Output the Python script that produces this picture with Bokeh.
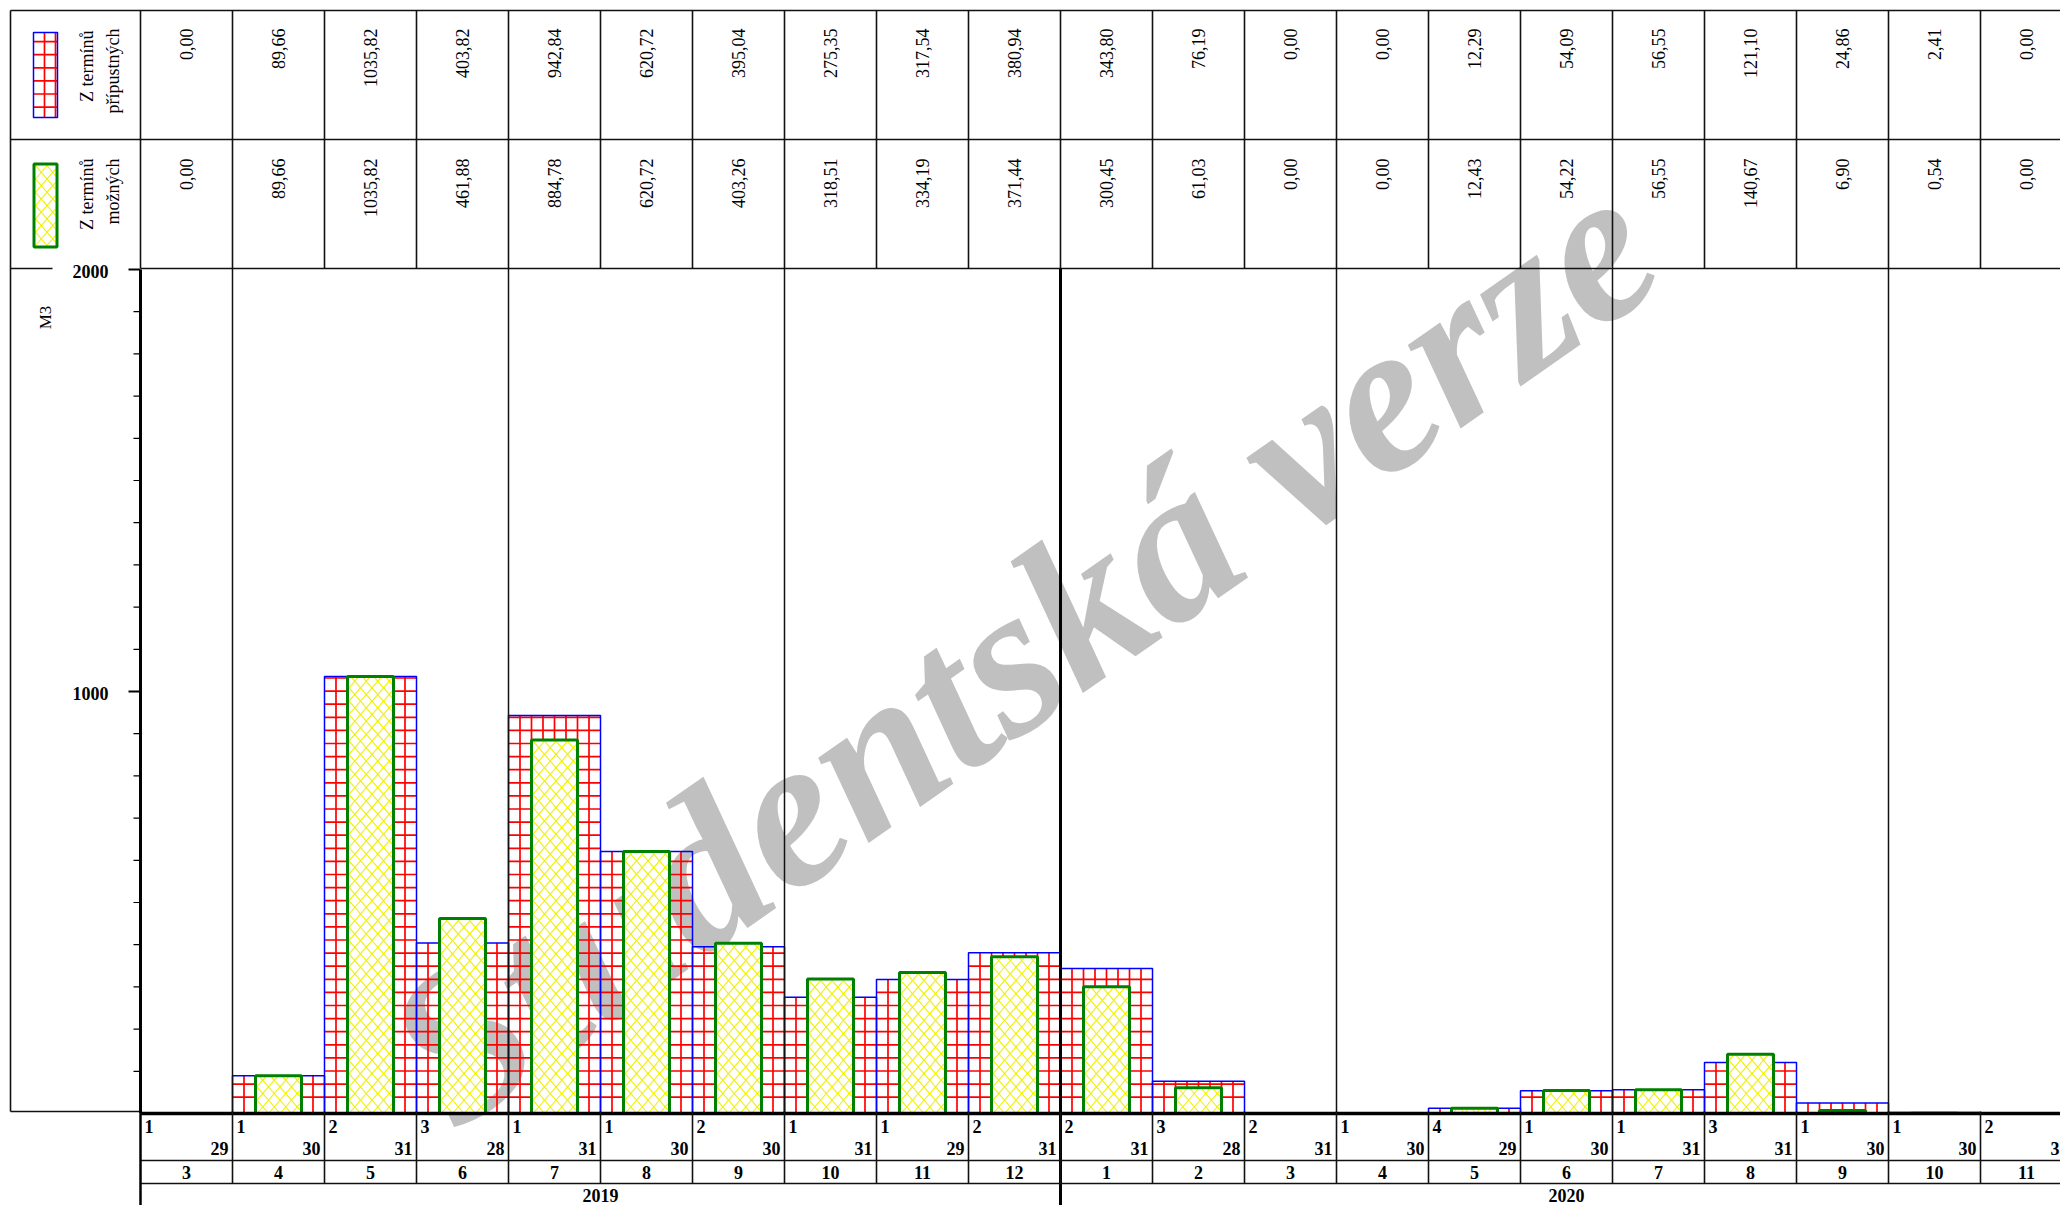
import numpy as np
from bokeh.plotting import figure
from bokeh.models import Range1d
from bokeh.embed import file_html
from bokeh.resources import INLINE
from bokeh.core.properties import value

# ---------------- data ----------------
months = ["3", "4", "5", "6", "7", "8", "9", "10", "11", "12",
          "1", "2", "3", "4", "5", "6", "7", "8", "9", "10", "11"]
year_labels = ["2019", "2020"]
year_month_counts = [10, 11]
pripustnych = [0.00, 89.66, 1035.82, 403.82, 942.84, 620.72, 395.04, 275.35, 317.54, 380.94,
               343.80, 76.19, 0.00, 0.00, 12.29, 54.09, 56.55, 121.10, 24.86, 2.41, 0.00]
moznych = [0.00, 89.66, 1035.82, 461.88, 884.78, 620.72, 403.26, 318.51, 334.19, 371.44,
           300.45, 61.03, 0.00, 0.00, 12.43, 54.22, 56.55, 140.67, 6.90, 0.54, 0.00]
first_day = ["1", "1", "2", "3", "1", "1", "2", "1", "1", "2",
             "2", "3", "2", "1", "4", "1", "1", "3", "1", "1", "2"]
last_day = ["29", "30", "31", "28", "31", "30", "30", "31", "29", "31",
            "31", "28", "31", "30", "29", "30", "31", "31", "30", "30", "30"]
series_names = [["Z termínů", "přípustných"], ["Z termínů", "možných"]]
y_unit = "M3"
y_major = [1000, 2000]
y_minor = list(range(100, 2000, 100))
watermark = "Studentská verze"

# ---------------- layout (page pixels) ----------------
W, H = 2060, 1205
COL0, COLW = 140, 92
Y0, K = 1113.0, 844.0 / 2000.0


def X(px):  # page px -> data x
    return (px - COL0) / COLW


def Y(py):  # page px -> data y
    return (Y0 - py) / K


def PX(x):  # data x -> page px
    return COL0 + COLW * x


def PY(v):  # data y -> page px
    return Y0 - K * v


FONT = value("Liberation Serif")
n = len(months)
idx = np.arange(n)
GREEN_W = 0.25  # offset of inner bar within the month column

p = figure(width=W, height=H, output_backend="svg", toolbar_location=None,
           x_range=Range1d(X(0), X(W)), y_range=Range1d(Y(H), Y(0)),
           min_border=0, x_axis_location=None, y_axis_location=None,
           outline_line_color=None)
p.grid.visible = False
p.background_fill_color = "white"
p.border_fill_color = "white"


# --------- hatch helpers (page pixel space -> data) ---------
def cross_hatch(l, r, t, b, step_x, step_y, y_anchor, x_anchor):
    xs0, ys0, xs1, ys1 = [], [], [], []
    k = 0
    while True:
        yy = y_anchor - step_y * k
        k += 1
        if yy >= b:
            continue
        if yy <= t + 1:
            break
        xs0.append(X(l)); xs1.append(X(r)); ys0.append(Y(yy)); ys1.append(Y(yy))
    xx = x_anchor + step_x
    while xx < r - 1:
        if xx > l + 1:
            xs0.append(X(xx)); xs1.append(X(xx)); ys0.append(Y(b)); ys1.append(Y(t))
        xx += step_x
    return xs0, ys0, xs1, ys1


def diag_hatch(l, r, t, b, per_x, per_y):
    xs0, ys0, xs1, ys1 = [], [], [], []
    Wd, Hd = r - l, b - t
    if Wd <= 0 or Hd <= 0:
        return xs0, ys0, xs1, ys1
    s = per_y / per_x
    c = -s * Wd - per_y * 2
    c = per_y * np.floor(c / per_y)
    while c < Hd + per_y:
        u0 = max(0.0, -c / s); u1 = min(Wd, (Hd - c) / s)
        if u1 - u0 > 0.05:
            xs0.append(X(l + u0)); ys0.append(Y(b - (s * u0 + c)))
            xs1.append(X(l + u1)); ys1.append(Y(b - (s * u1 + c)))
        c += per_y
    d = 0.0
    while d < Hd + s * Wd + per_y:
        u0 = max(0.0, (d - Hd) / s); u1 = min(Wd, d / s)
        if u1 - u0 > 0.05:
            xs0.append(X(l + u0)); ys0.append(Y(b - (-s * u0 + d)))
            xs1.append(X(l + u1)); ys1.append(Y(b - (-s * u1 + d)))
        d += per_y
    return xs0, ys0, xs1, ys1


def extend(acc, seg):
    for a, s_ in zip(acc, seg):
        a.extend(s_)


RED, BLUE, GREEN, YEL = "#ff0000", "#0000ff", "#008000", "#f0f000"

# watermark (behind everything)
p.text(x=[X(1021)], y=[Y(647)], text=[watermark], angle=np.deg2rad(35),
       text_font=FONT, text_font_size="215px", text_font_style="bold italic",
       text_color="#c0c0c0", text_align="center", text_baseline="middle")

# ---- outer bars (Z termínů přípustných) ----
red = ([], [], [], [])
for i, v in enumerate(pripustnych):
    if v <= 0:
        continue
    l, r, t, b = PX(i), PX(i + 1), PY(v), PY(0)
    extend(red, cross_hatch(l, r, t, b, COLW / 8, 13.1, Y0 - 16.3, l))
p.segment(x0=red[0], y0=red[1], x1=red[2], y1=red[3], line_color=RED, line_width=1.7)
p.quad(left=idx, right=idx + 1, bottom=0, top=pripustnych,
       fill_color=None, line_color=BLUE, line_width=1.5)

# ---- inner bars (Z termínů možných) ----
p.quad(left=idx + GREEN_W, right=idx + 1 - GREEN_W, bottom=0, top=moznych,
       fill_color="white", line_color=None)
yel = ([], [], [], [])
for i, v in enumerate(moznych):
    if v <= 0:
        continue
    l, r, t, b = PX(i + GREEN_W), PX(i + 1 - GREEN_W), PY(v), PY(0)
    extend(yel, diag_hatch(l + 1.5, r - 1.5, t + 1.5, b, 11.5, 13.3))
p.segment(x0=yel[0], y0=yel[1], x1=yel[2], y1=yel[3], line_color=YEL, line_width=1.1)
p.quad(left=idx + GREEN_W, right=idx + 1 - GREEN_W, bottom=0, top=moznych,
       fill_color=None, line_color=GREEN, line_width=3)

LC = "#111111"
right_end = X(2075)

# quarter lines in the chart area
q = [1, 4, 7, 13, 16, 19]
p.segment(x0=q, y0=[Y(268)] * len(q), x1=q, y1=[0] * len(q), line_color=LC, line_width=1.5)
# year boundary (thick)
p.segment(x0=[year_month_counts[0]], y0=[Y(268)], x1=[year_month_counts[0]], y1=[Y(1215)],
          line_color="black", line_width=3)

# table above
p.segment(x0=[X(10), X(10), X(140)], y0=[Y(10), Y(139), Y(268)],
          x1=[right_end, right_end, right_end], y1=[Y(10), Y(139), Y(268)],
          line_color=LC, line_width=1.6)
p.segment(x0=[X(10)], y0=[Y(268)], x1=[X(52)], y1=[Y(268)], line_color=LC, line_width=1.6)
bounds = np.arange(0, n + 1)
p.segment(x0=bounds, y0=[Y(10)] * len(bounds), x1=bounds, y1=[Y(268)] * len(bounds),
          line_color=LC, line_width=1.6)
# left border of legend / axis box
p.segment(x0=[X(10), X(10)], y0=[Y(10), Y(1111)], x1=[X(10), X(140)], y1=[Y(1111), Y(1111)],
          line_color=LC, line_width=1.6)

# values in the table
fmt = [f"{v:.2f}".replace(".", ",") for v in pripustnych]
fmt2 = [f"{v:.2f}".replace(".", ",") for v in moznych]
p.text(x=idx + 0.5, y=[Y(28)] * n, text=fmt, angle=np.pi / 2, text_font=FONT,
       text_font_size="18px", text_align="right", text_baseline="middle", text_color="black")
p.text(x=idx + 0.5, y=[Y(158)] * n, text=fmt2, angle=np.pi / 2, text_font=FONT,
       text_font_size="18px", text_align="right", text_baseline="middle", text_color="black")

# legend swatches
sw = cross_hatch(33, 57, 32, 117, 11, 13.1, 119.7, 33)
p.segment(x0=sw[0], y0=sw[1], x1=sw[2], y1=sw[3], line_color=RED, line_width=1.7)
p.quad(left=[X(33)], right=[X(57)], bottom=[Y(117)], top=[Y(32)],
       fill_color=None, line_color=BLUE, line_width=1.5)
sw2 = diag_hatch(35, 55, 165, 245, 11.5, 13.3)
p.segment(x0=sw2[0], y0=sw2[1], x1=sw2[2], y1=sw2[3], line_color=YEL, line_width=1.1)
p.quad(left=[X(33.5)], right=[X(56.5)], bottom=[Y(246.5)], top=[Y(163.5)],
       fill_color=None, line_color=GREEN, line_width=3)
# legend texts
p.text(x=[X(86), X(112), X(86), X(112)], y=[Y(30), Y(28), Y(158), Y(158)],
       text=[series_names[0][0], series_names[0][1], series_names[1][0], series_names[1][1]],
       angle=np.pi / 2, text_font=FONT, text_font_size="18px", text_align="right",
       text_baseline="middle", text_color="black")

# y axis
p.segment(x0=[0], y0=[0], x1=[0], y1=[2000], line_color="black", line_width=3)
p.segment(x0=[X(128)] * len(y_major), y0=y_major, x1=[0] * len(y_major), y1=y_major,
          line_color="black", line_width=2)
p.segment(x0=[X(133)] * len(y_minor), y0=y_minor, x1=[0] * len(y_minor), y1=y_minor,
          line_color="black", line_width=1.2)
p.text(x=[X(90)] * len(y_major), y=[v - 2 / K for v in y_major], text=[str(v) for v in y_major],
       text_font=FONT, text_font_size="18px", text_font_style="bold",
       text_align="center", text_baseline="middle", text_color="black")
p.text(x=[X(45)], y=[Y(317)], text=[y_unit], angle=np.pi / 2, text_font=FONT,
       text_font_size="17px", text_align="center", text_baseline="middle", text_color="black")

# baseline
p.segment(x0=[0], y0=[0], x1=[right_end], y1=[0], line_color="black", line_width=3.5)

# bottom rows
p.segment(x0=[0, 0], y0=[Y(1160), Y(1183)], x1=[right_end, right_end], y1=[Y(1160), Y(1183)],
          line_color=LC, line_width=1.6)
p.segment(x0=bounds[1:], y0=[Y(1111)] * n, x1=bounds[1:], y1=[Y(1183)] * n,
          line_color=LC, line_width=1.6)
p.segment(x0=[0], y0=[0], x1=[0], y1=[Y(1215)], line_color="black", line_width=2.5)

p.text(x=idx + 4 / COLW, y=[Y(1126)] * n, text=first_day, text_font=FONT,
       text_font_size="18px", text_font_style="bold", text_align="left",
       text_baseline="middle", text_color="black")
p.text(x=idx + 1 - 4 / COLW, y=[Y(1148)] * n, text=last_day, text_font=FONT,
       text_font_size="18px", text_font_style="bold", text_align="right",
       text_baseline="middle", text_color="black")
p.text(x=idx + 0.5, y=[Y(1171.5)] * n, text=months, text_font=FONT,
       text_font_size="18px", text_font_style="bold", text_align="center",
       text_baseline="middle", text_color="black")
starts = np.cumsum([0] + year_month_counts[:-1])
centers = [float(s + c / 2) for s, c in zip(starts, year_month_counts)]
p.text(x=centers, y=[Y(1194.5)] * len(centers), text=year_labels, text_font=FONT,
       text_font_size="18px", text_font_style="bold", text_align="center",
       text_baseline="middle", text_color="black")

open("out.html", "w").write(file_html(p, INLINE))
